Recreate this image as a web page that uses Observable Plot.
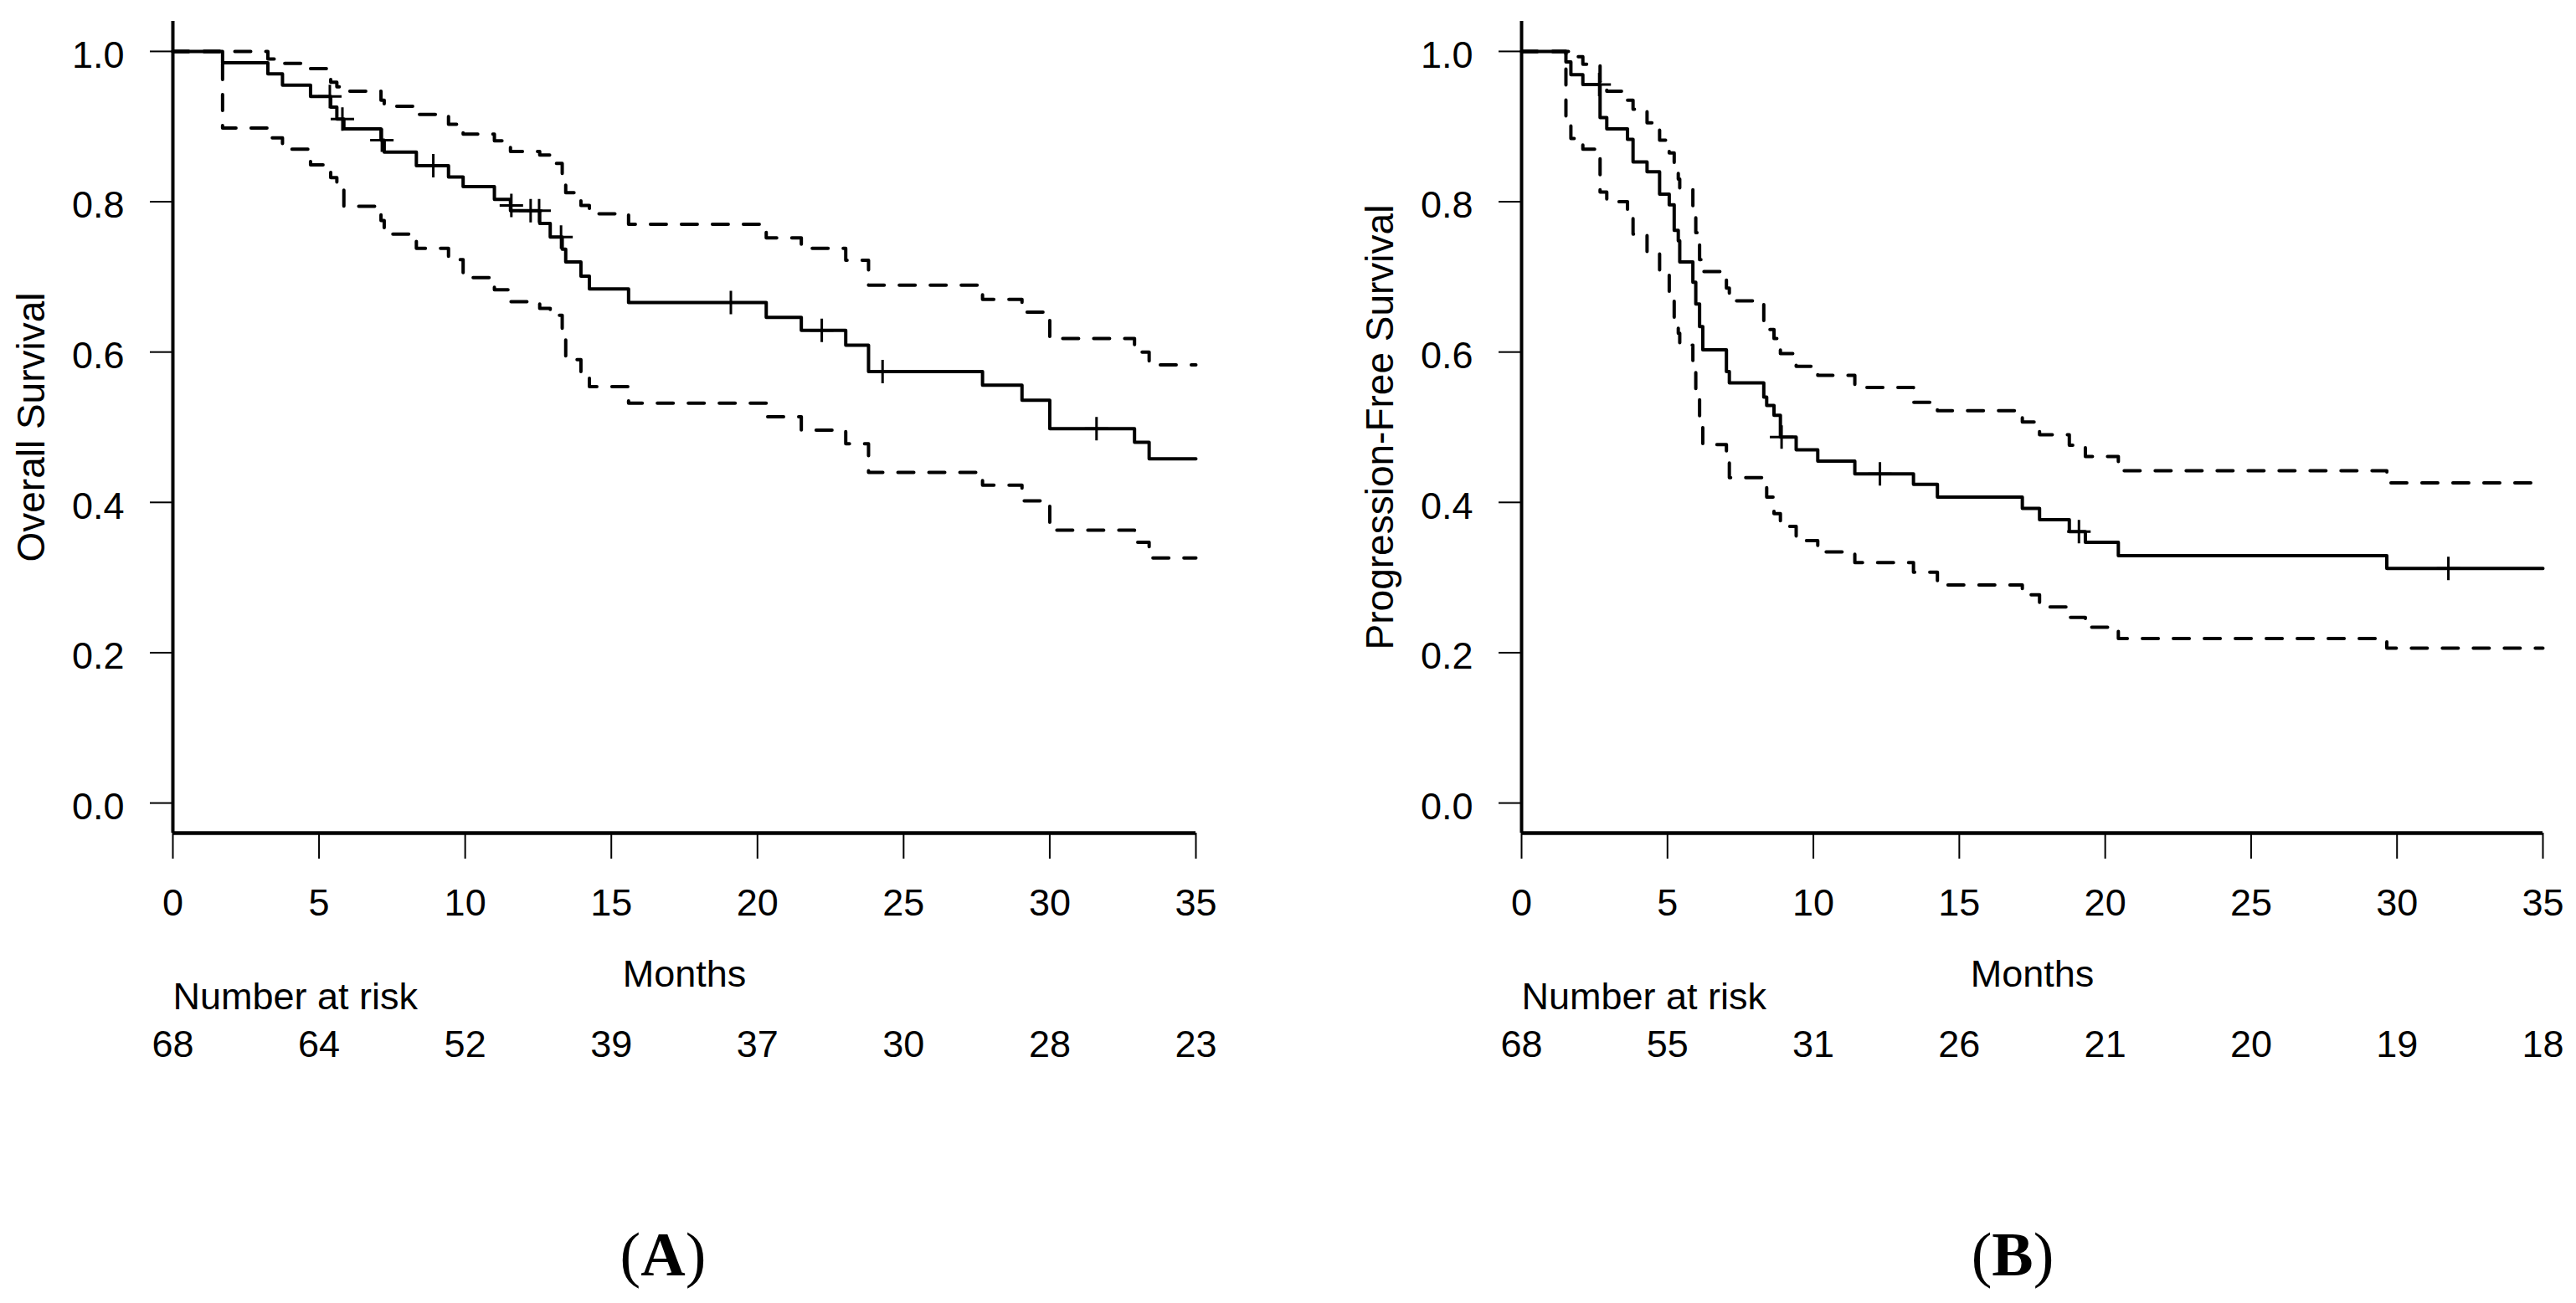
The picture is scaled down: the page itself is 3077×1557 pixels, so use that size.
<!DOCTYPE html>
<html><head><meta charset="utf-8">
<script src="https://cdn.jsdelivr.net/npm/d3@7"></script>
<script src="https://cdn.jsdelivr.net/npm/@observablehq/plot@0.6"></script>
<style>
html,body{margin:0;padding:0;background:#fff;width:3077px;height:1557px;overflow:hidden;}
.panel{position:absolute;top:0;}
.cap{position:absolute;font-family:"Liberation Serif","Times New Roman",serif;font-size:74px;color:#000;transform:translateX(-50%);white-space:nowrap;line-height:1;}
</style></head><body>
<div id="A" class="panel" style="left:0px"></div>
<div id="B" class="panel" style="left:1611px"></div>
<div class="cap" style="left:792px;top:1462px">(<b>A</b>)</div>
<div class="cap" style="left:2404px;top:1462px">(<b>B</b>)</div>
<script>
// ---- shared axis data ----
const monthTicks = [0, 5, 10, 15, 20, 25, 30, 35];
const yTicks = [0, 0.2, 0.4, 0.6, 0.8, 1.0];
const endTime = 35;

// ---- Panel A: Overall Survival ----
const riskA = [68, 64, 52, 39, 37, 30, 28, 23];
const osTime  = [0, 1.70, 3.25, 3.75, 4.71, 5.40, 5.61, 5.85, 7.12, 7.23, 8.33, 9.43, 9.93, 11.00, 11.55, 12.55, 12.91, 13.32, 13.44, 13.96, 14.25, 15.59, 20.30, 21.50, 23.02, 23.80, 27.70, 29.05, 30.00, 32.90, 33.40];
const osSurv  = [1, 0.985, 0.970, 0.955, 0.940, 0.926, 0.910, 0.897, 0.882, 0.866, 0.848, 0.833, 0.820, 0.803, 0.788, 0.771, 0.753, 0.737, 0.720, 0.701, 0.684, 0.666, 0.646, 0.629, 0.609, 0.574, 0.556, 0.536, 0.498, 0.480, 0.458];
const osUpper = [1, 1, 0.990, 0.984, 0.977, 0.959, 0.953, 0.947, 0.935, 0.927, 0.916, 0.903, 0.890, 0.881, 0.867, 0.862, 0.851, 0.834, 0.812, 0.795, 0.784, 0.770, 0.752, 0.738, 0.722, 0.689, 0.670, 0.653, 0.618, 0.600, 0.583];
const osLower = [1, 0.898, 0.885, 0.870, 0.849, 0.832, 0.816, 0.794, 0.775, 0.757, 0.738, 0.723, 0.699, 0.683, 0.667, 0.658, 0.649, 0.627, 0.590, 0.570, 0.554, 0.532, 0.514, 0.496, 0.478, 0.440, 0.423, 0.402, 0.363, 0.347, 0.326];
const osCensorTime = [5.37, 5.80, 7.15, 8.91, 11.58, 12.24, 12.53, 13.28, 19.09, 22.20, 24.28, 31.60];
const osCensorSurv = [0.940, 0.910, 0.882, 0.848, 0.795, 0.788, 0.788, 0.753, 0.666, 0.629, 0.574, 0.498];

// ---- Panel B: Progression-Free Survival ----
const riskB = [68, 55, 31, 26, 21, 20, 19, 18];
const pfsTime  = [0, 1.52, 1.69, 2.10, 2.69, 2.92, 3.63, 3.82, 4.30, 4.73, 5.06, 5.23, 5.37, 5.42, 5.87, 5.97, 6.10, 6.21, 7.02, 7.12, 8.30, 8.40, 8.65, 8.87, 9.41, 10.15, 11.42, 13.43, 14.25, 17.16, 17.75, 18.77, 19.32, 20.45, 29.65];
const pfsSurv  = [1, 0.986, 0.969, 0.956, 0.912, 0.897, 0.883, 0.853, 0.840, 0.810, 0.796, 0.762, 0.748, 0.720, 0.693, 0.664, 0.634, 0.603, 0.574, 0.559, 0.540, 0.529, 0.516, 0.487, 0.470, 0.455, 0.438, 0.424, 0.407, 0.392, 0.377, 0.361, 0.347, 0.329, 0.312];
const pfsUpper = [1, 1, 0.993, 0.983, 0.960, 0.947, 0.935, 0.923, 0.905, 0.882, 0.865, 0.849, 0.830, 0.816, 0.792, 0.759, 0.723, 0.707, 0.685, 0.668, 0.637, 0.630, 0.618, 0.598, 0.581, 0.569, 0.553, 0.533, 0.522, 0.507, 0.490, 0.476, 0.461, 0.442, 0.426];
const pfsLower = [1, 0.910, 0.884, 0.870, 0.813, 0.800, 0.780, 0.757, 0.731, 0.707, 0.676, 0.642, 0.625, 0.609, 0.583, 0.548, 0.512, 0.477, 0.460, 0.433, 0.427, 0.407, 0.385, 0.368, 0.349, 0.334, 0.320, 0.307, 0.290, 0.277, 0.261, 0.247, 0.234, 0.219, 0.206];
const pfsCensorTime = [2.66, 8.91, 12.28, 19.10, 31.76];
const pfsCensorSurv = [0.956, 0.487, 0.438, 0.361, 0.312];

function steps(times, vals) {
  const pts = times.map((t, i) => ({t, v: vals[i]}));
  pts.push({t: endTime, v: vals[vals.length - 1]});
  return pts;
}
const plusSymbol = {
  draw(ctx, size) {
    const r = Math.sqrt(size / Math.PI);
    ctx.moveTo(-r, 0); ctx.lineTo(r, 0);
    ctx.moveTo(0, -r); ctx.lineTo(0, r);
  }
};

function panel({times, surv, upper, lower, cTimes, cSurv, risk, ylabel, innerWidth, marginRight}) {
  const font = "'Liberation Sans', Arial, sans-serif";
  const fmt = d3.format(".1f");
  return Plot.plot({
    width: 206 + innerWidth + marginRight,
    height: 1300,
    marginLeft: 206,
    marginRight,
    marginTop: 25,
    marginBottom: 305,
    x: {domain: [0, 35]},
    y: {domain: [-0.04, 1.04]},
    style: {fontFamily: font, fontSize: "45px", color: "#000", background: "#fff", overflow: "visible"},
    marks: [
      Plot.axisY(yTicks, {tickSize: 27, text: null, strokeWidth: 2, label: null}),
      Plot.text(yTicks, {y: d => d, text: d => fmt(d), frameAnchor: "left", textAnchor: "end", dx: -58, dy: 5, fontSize: 45}),
      Plot.axisX(monthTicks, {tickSize: 31, tickPadding: 36, strokeWidth: 2, fontSize: 45, label: null}),
      Plot.ruleX([0], {strokeWidth: 4, stroke: "#000"}),
      Plot.ruleY([-0.04], {strokeWidth: 4.5, stroke: "#000"}),
      Plot.line(steps(times, upper), {x: "t", y: "v", curve: "step-after", stroke: "#000", strokeWidth: 4, strokeDasharray: "19,18"}),
      Plot.line(steps(times, lower), {x: "t", y: "v", curve: "step-after", stroke: "#000", strokeWidth: 4, strokeDasharray: "19,18"}),
      Plot.line(steps(times, surv), {x: "t", y: "v", curve: "step-after", stroke: "#000", strokeWidth: 4}),
      Plot.dot(cTimes, {x: cTimes, y: cSurv, symbol: plusSymbol, r: 14, stroke: "#000", strokeWidth: 3, fill: "none"}),
      Plot.text([ylabel], {frameAnchor: "left", textAnchor: "middle", rotate: -90, dx: -168, fontSize: 46}),
      Plot.text(["Months"], {frameAnchor: "bottom", textAnchor: "middle", dy: 183, fontSize: 45}),
      Plot.text(["Number at risk"], {frameAnchor: "bottom-left", textAnchor: "start", dy: 210, fontSize: 45}),
      Plot.text(risk, {x: monthTicks, text: risk.map(String), frameAnchor: "bottom", textAnchor: "middle", dy: 267, fontSize: 45})
    ]
  });
}

document.getElementById("A").append(panel({
  times: osTime, surv: osSurv, upper: osUpper, lower: osLower,
  cTimes: osCensorTime, cSurv: osCensorSurv, risk: riskA,
  ylabel: "Overall Survival", innerWidth: 1222, marginRight: 60
}));
document.getElementById("B").append(panel({
  times: pfsTime, surv: pfsSurv, upper: pfsUpper, lower: pfsLower,
  cTimes: pfsCensorTime, cSurv: pfsCensorSurv, risk: riskB,
  ylabel: "Progression-Free Survival", innerWidth: 1220, marginRight: 40
}));
</script>
</body></html>
